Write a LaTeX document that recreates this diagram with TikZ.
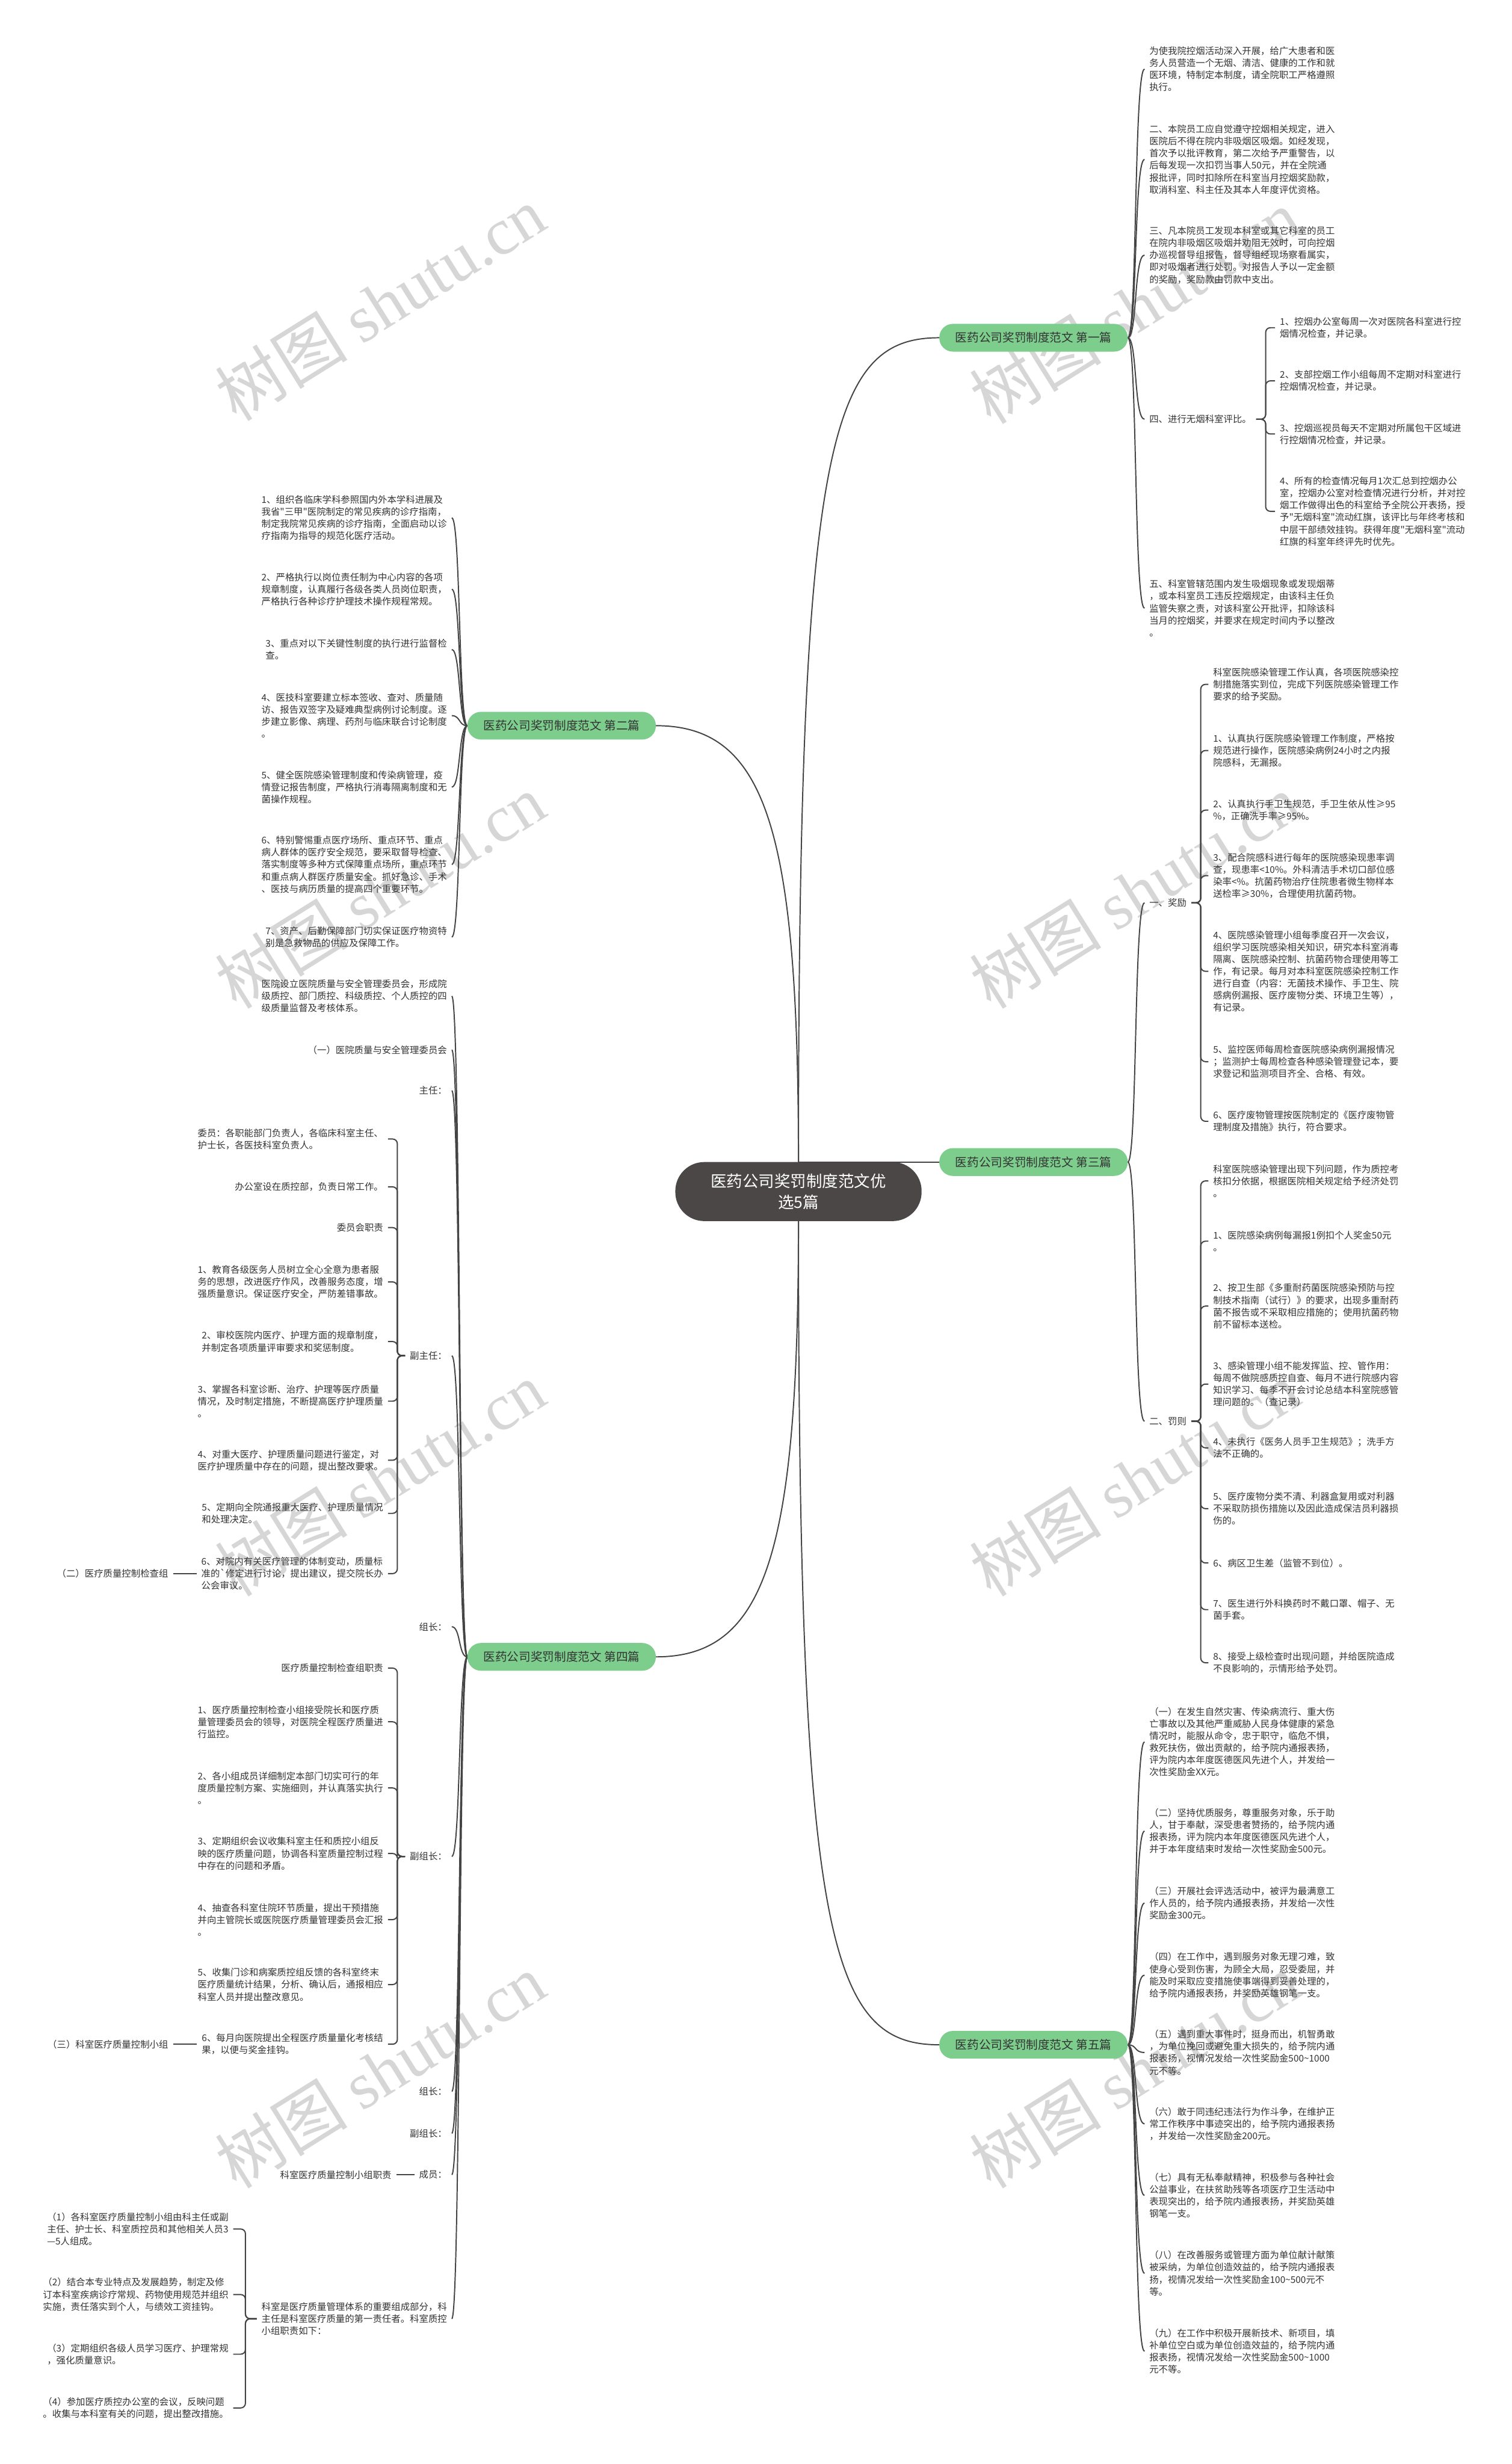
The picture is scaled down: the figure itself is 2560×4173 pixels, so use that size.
\documentclass[tikz,border=0pt]{standalone}
\usepackage{fontspec}
\setmainfont{Noto Sans CJK SC}[Ligatures=TeXOff]
\newfontfamily\wmlatin{Liberation Serif}
\usetikzlibrary{calc}
\pgfdeclarelayer{bg}
\pgfdeclarelayer{wmlayer}
\pgfsetlayers{wmlayer,bg,main}
\definecolor{lineclr}{HTML}{444444}
\definecolor{txtclr}{HTML}{333333}
\definecolor{brgreen}{HTML}{7DCD8D}
\definecolor{rootclr}{HTML}{4B4747}
\definecolor{wmclr}{HTML}{D6D6D6}
\newcommand\fsz{\fontsize{15.7}{20.5}\selectfont}
\newcommand\rcurve[2]{\draw[conn] (#1.east) .. controls ($(#1.east)+(16,0)$) and ($(#2.west)+(-18,0)$) .. (#2.west);}
\newcommand\lcurve[2]{\draw[conn] (#1.west) .. controls ($(#1.west)+(-15,0)$) and ($(#2.east)+(15,0)$) .. (#2.east);}
\begin{document}
\begin{tikzpicture}[x=1pt,y=-1pt,
  conn/.style={draw=lineclr,line width=2pt},
  bconn/.style={conn,rounded corners=8pt},
  txt/.style={font=\fsz,text=txtclr,align=left,inner xsep=8pt,inner ysep=2pt},
  rt/.style={txt,anchor=west},
  lt/.style={txt,anchor=east},
  branch/.style={fill=brgreen,rounded corners=23pt,minimum width=319pt,minimum height=47pt,font=\fontsize{20}{24}\selectfont,text=txtclr,inner sep=0pt},
  root/.style={fill=rootclr,rounded corners=49pt,minimum width=417pt,minimum height=100pt,font=\fontsize{27}{36}\selectfont,text=white,align=center,inner sep=0pt},
  wm/.style={text=wmclr,rotate=32,font=\fontsize{112}{120}\selectfont}
]
\useasboundingbox (0,0) rectangle (2560,4173);
\begin{pgfonlayer}{wmlayer}
\fill[white] (0,0) rectangle (2560,4173);
\foreach \wx/\wy [count=\i] in {644/514,1921/519,644/1509,1921/1509,644/2505,1921/2505,644/3507,1921/3507}
  \node[wm] (wm\i) at (\wx,\wy) {树图 {\wmlatin shutu.cn}};
\end{pgfonlayer}

% root and branches
\node[root] (ctr) at (1352,2018) {医药公司奖罚制度范文优\\选5篇};
\node[branch] (b1) at (1750,572) {医药公司奖罚制度范文 第一篇};
\node[branch] (b3) at (1750,1968) {医药公司奖罚制度范文 第三篇};
\node[branch] (b5) at (1750,3463) {医药公司奖罚制度范文 第五篇};
\node[branch] (b2) at (951,1229) {医药公司奖罚制度范文 第二篇};
\node[branch] (b4) at (951,2806) {医药公司奖罚制度范文 第四篇};

% ---------- branch 1
\node[rt] (c11) at (1938,117) {为使我院控烟活动深入开展，给广大患者和医\\务人员营造一个无烟、清洁、健康的工作和就\\医环境，特制定本制度，请全院职工严格遵照\\执行。};
\node[rt] (c12) at (1938,270) {二、本院员工应自觉遵守控烟相关规定，进入\\医院后不得在院内非吸烟区吸烟。如经发现，\\首次予以批评教育，第二次给予严重警告，以\\后每发现一次扣罚当事人50元，并在全院通\\报批评，同时扣除所在科室当月控烟奖励款，\\取消科室、科主任及其本人年度评优资格。};
\node[rt] (c13) at (1938,432) {三、凡本院员工发现本科室或其它科室的员工\\在院内非吸烟区吸烟并劝阻无效时，可向控烟\\办巡视督导组报告，督导组经现场察看属实，\\即对吸烟者进行处罚。对报告人予以一定金额\\的奖励，奖励款由罚款中支出。};
\node[rt] (c14) at (1938,710) {四、进行无烟科室评比。};
\node[rt] (c141) at (2159,555) {1、控烟办公室每周一次对医院各科室进行控\\烟情况检查，并记录。};
\node[rt] (c142) at (2159,645) {2、支部控烟工作小组每周不定期对科室进行\\控烟情况检查，并记录。};
\node[rt] (c143) at (2159,735) {3、控烟巡视员每天不定期对所属包干区域进\\行控烟情况检查，并记录。};
\node[rt] (c144) at (2159,866) {4、所有的检查情况每月1次汇总到控烟办公\\室，控烟办公室对检查情况进行分析，并对控\\烟工作做得出色的科室给予全院公开表扬，授\\予"无烟科室"流动红旗，该评比与年终考核和\\中层干部绩效挂钩。获得年度"无烟科室"流动\\红旗的科室年终评先时优先。};
\node[rt] (c15) at (1938,1030) {五、科室管辖范围内发生吸烟现象或发现烟蒂\\，或本科室员工违反控烟规定，由该科主任负\\监管失察之责，对该科室公开批评，扣除该科\\当月的控烟奖，并要求在规定时间内予以整改\\。};

% ---------- branch 3
\node[rt] (c31) at (1938,1529) {一、奖励};
\node[rt] (c311) at (2046,1159) {科室医院感染管理工作认真，各项医院感染控\\制措施落实到位，完成下列医院感染管理工作\\要求的给予奖励。};
\node[rt] (c312) at (2046,1271) {1、认真执行医院感染管理工作制度，严格按\\规范进行操作，医院感染病例24小时之内报\\院感科，无漏报。};
\node[rt] (c313) at (2046,1372) {2、认真执行手卫生规范，手卫生依从性≥95\\\%，正确洗手率≥95\%。};
\node[rt] (c314) at (2046,1483) {3、配合院感科进行每年的医院感染现患率调\\查，现患率<10\%。外科清洁手术切口部位感\\染率<\%。抗菌药物治疗住院患者微生物样本\\送检率≥30\%，合理使用抗菌药物。};
\node[rt] (c315) at (2046,1645) {4、医院感染管理小组每季度召开一次会议，\\组织学习医院感染相关知识，研究本科室消毒\\隔离、医院感染控制、抗菌药物合理使用等工\\作，有记录。每月对本科室医院感染控制工作\\进行自查（内容：无菌技术操作、手卫生、院\\感病例漏报、医疗废物分类、环境卫生等），\\有记录。};
\node[rt] (c316) at (2046,1798) {5、监控医师每周检查医院感染病例漏报情况\\；监测护士每周检查各种感染管理登记本，要\\求登记和监测项目齐全、合格、有效。};
\node[rt] (c317) at (2046,1899) {6、医疗废物管理按医院制定的《医疗废物管\\理制度及措施》执行，符合要求。};
\node[rt] (c32) at (1938,2407) {二、罚则};
\node[rt] (c321) at (2046,2000) {科室医院感染管理出现下列问题，作为质控考\\核扣分依据，根据医院相关规定给予经济处罚\\。};
\node[rt] (c322) at (2046,2102) {1、医院感染病例每漏报1例扣个人奖金50元\\。};
\node[rt] (c323) at (2046,2212) {2、按卫生部《多重耐药菌医院感染预防与控\\制技术指南（试行）》的要求，出现多重耐药\\菌不报告或不采取相应措施的；使用抗菌药物\\前不留标本送检。};
\node[rt] (c324) at (2046,2344) {3、感染管理小组不能发挥监、控、管作用：\\每周不做院感质控自查、每月不进行院感内容\\知识学习、每季不开会讨论总结本科室院感管\\理问题的。（查记录）};
\node[rt] (c325) at (2046,2452) {4、未执行《医务人员手卫生规范》；洗手方\\法不正确的。};
\node[rt] (c326) at (2046,2555) {5、医疗废物分类不清、利器盒复用或对利器\\不采取防损伤措施以及因此造成保洁员利器损\\伤的。};
\node[rt] (c327) at (2046,2647) {6、病区卫生差（监管不到位）。};
\node[rt] (c328) at (2046,2726) {7、医生进行外科换药时不戴口罩、帽子、无\\菌手套。};
\node[rt] (c329) at (2046,2816) {8、接受上级检查时出现问题，并给医院造成\\不良影响的，示情形给予处罚。};

% ---------- branch 5
\node[rt] (c51) at (1938,2950) {（一）在发生自然灾害、传染病流行、重大伤\\亡事故以及其他严重威胁人民身体健康的紧急\\情况时，能服从命令，忠于职守，临危不惧，\\救死扶伤，做出贡献的，给予院内通报表扬，\\评为院内本年度医德医风先进个人，并发给一\\次性奖励金XX元。};
\node[rt] (c52) at (1938,3101) {（二）坚持优质服务，尊重服务对象，乐于助\\人，甘于奉献，深受患者赞扬的，给予院内通\\报表扬，评为院内本年度医德医风先进个人，\\并于本年度结束时发给一次性奖励金500元。};
\node[rt] (c53) at (1938,3223) {（三）开展社会评选活动中，被评为最满意工\\作人员的，给予院内通报表扬，并发给一次性\\奖励金300元。};
\node[rt] (c54) at (1938,3345) {（四）在工作中，遇到服务对象无理刁难，致\\使身心受到伤害，为顾全大局，忍受委屈，并\\能及时采取应变措施使事端得到妥善处理的，\\给予院内通报表扬，并奖励英雄钢笔一支。};
\node[rt] (c55) at (1938,3476) {（五）遇到重大事件时，挺身而出，机智勇敢\\，为单位挽回或避免重大损失的，给予院内通\\报表扬，视情况发给一次性奖励金500\textasciitilde1000\\元不等。};
\node[rt] (c56) at (1938,3597) {（六）敢于同违纪违法行为作斗争，在维护正\\常工作秩序中事迹突出的，给予院内通报表扬\\，并发给一次性奖励金200元。};
\node[rt] (c57) at (1938,3718) {（七）具有无私奉献精神，积极参与各种社会\\公益事业，在扶贫助残等各项医疗卫生活动中\\表现突出的，给予院内通报表扬，并奖励英雄\\钢笔一支。};
\node[rt] (c58) at (1938,3850) {（八）在改善服务或管理方面为单位献计献策\\被采纳，为单位创造效益的，给予院内通报表\\扬，视情况发给一次性奖励金100\textasciitilde500元不\\等。};
\node[rt] (c59) at (1938,3982) {（九）在工作中积极开展新技术、新项目，填\\补单位空白或为单位创造效益的，给予院内通\\报表扬，视情况发给一次性奖励金500\textasciitilde1000\\元不等。};

% ---------- branch 2
\node[lt] (c21) at (765,877) {1、组织各临床学科参照国内外本学科进展及\\我省"三甲"医院制定的常见疾病的诊疗指南，\\制定我院常见疾病的诊疗指南，全面启动以诊\\疗指南为指导的规范化医疗活动。};
\node[lt] (c22) at (765,998) {2、严格执行以岗位责任制为中心内容的各项\\规章制度，认真履行各级各类人员岗位职责，\\严格执行各种诊疗护理技术操作规程常规。};
\node[lt] (c23) at (765,1100) {3、重点对以下关键性制度的执行进行监督检\\查。};
\node[lt] (c24) at (765,1212) {4、医技科室要建立标本签收、查对、质量随\\访、报告双签字及疑难典型病例讨论制度。逐\\步建立影像、病理、药剂与临床联合讨论制度\\。};
\node[lt] (c25) at (765,1333) {5、健全医院感染管理制度和传染病管理，疫\\情登记报告制度，严格执行消毒隔离制度和无\\菌操作规程。};
\node[lt] (c26) at (765,1464) {6、特别警惕重点医疗场所、重点环节、重点\\病人群体的医疗安全规范，要采取督导检查、\\落实制度等多种方式保障重点场所，重点环节\\和重点病人群医疗质量安全。抓好急诊、手术\\、医技与病历质量的提高四个重要环节。};
\node[lt] (c27) at (765,1587) {7、资产、后勤保障部门切实保证医疗物资特\\别是急救物品的供应及保障工作。};

% ---------- branch 4
\node[lt] (d1) at (765,1687) {医院设立医院质量与安全管理委员会，形成院\\级质控、部门质控、科级质控、个人质控的四\\级质量监督及考核体系。};
\node[lt] (d2) at (765,1778) {（一）医院质量与安全管理委员会};
\node[lt] (d3) at (765,1847) {主任：};
\node[lt] (d4) at (765,2296) {副主任：};
\node[lt] (d41) at (657,1929) {委员：各职能部门负责人，各临床科室主任、\\护士长，各医技科室负责人。};
\node[lt] (d42) at (657,2010) {办公室设在质控部，负责日常工作。};
\node[lt] (d43) at (657,2079) {委员会职责};
\node[lt] (d44) at (657,2171) {1、教育各级医务人员树立全心全意为患者服\\务的思想，改进医疗作风，改善服务态度，增\\强质量意识。保证医疗安全，严防差错事故。};
\node[lt] (d45) at (657,2272) {2、审校医院内医疗、护理方面的规章制度，\\并制定各项质量评审要求和奖惩制度。};
\node[lt] (d46) at (657,2373) {3、掌握各科室诊断、治疗、护理等医疗质量\\情况，及时制定措施，不断提高医疗护理质量\\。};
\node[lt] (d47) at (657,2473) {4、对重大医疗、护理质量问题进行鉴定，对\\医疗护理质量中存在的问题，提出整改要求。};
\node[lt] (d48) at (657,2563) {5、定期向全院通报重大医疗、护理质量情况\\和处理决定。};
\node[lt] (d49) at (657,2665) {6、对院内有关医疗管理的体制变动，质量标\\准的`修定进行讨论，提出建议，提交院长办\\公会审议。};
\node[lt] (d49a) at (293,2665) {（二）医疗质量控制检查组};
\node[lt] (d5) at (765,2755) {组长：};
\node[lt] (d6) at (765,3144) {副组长：};
\node[lt] (d61) at (657,2825) {医疗质量控制检查组职责};
\node[lt] (d62) at (657,2916) {1、医疗质量控制检查小组接受院长和医疗质\\量管理委员会的领导，对医院全程医疗质量进\\行监控。};
\node[lt] (d63) at (657,3028) {2、各小组成员详细制定本部门切实可行的年\\度质量控制方案、实施细则，并认真落实执行\\。};
\node[lt] (d64) at (657,3139) {3、定期组织会议收集科室主任和质控小组反\\映的医疗质量问题，协调各科室质量控制过程\\中存在的问题和矛盾。};
\node[lt] (d65) at (657,3251) {4、抽查各科室住院环节质量，提出干预措施\\并向主管院长或医院医疗质量管理委员会汇报\\。};
\node[lt] (d66) at (657,3361) {5、收集门诊和病案质控组反馈的各科室终末\\医疗质量统计结果，分析、确认后，通报相应\\科室人员并提出整改意见。};
\node[lt] (d67) at (657,3462) {6、每月向医院提出全程医疗质量量化考核结\\果，以便与奖金挂钩。};
\node[lt] (d67a) at (293,3462) {（三）科室医疗质量控制小组};
\node[lt] (d7) at (765,3542) {组长：};
\node[lt] (d8) at (765,3613) {副组长：};
\node[lt] (d9) at (765,3683) {成员：};
\node[lt] (d91) at (671,3683) {科室医疗质量控制小组职责};
\node[lt] (d10) at (765,3927) {科室是医疗质量管理体系的重要组成部分，科\\主任是科室医疗质量的第一责任者。科室质控\\小组职责如下：};
\node[lt] (d101) at (395,3775) {（1）各科室医疗质量控制小组由科主任或副\\主任、护士长、科室质控员和其他相关人员3\\—5人组成。};
\node[lt] (d102) at (395,3886) {（2）结合本专业特点及发展趋势，制定及修\\订本科室疾病诊疗常规、药物使用规范并组织\\实施，责任落实到个人，与绩效工资挂钩。};
\node[lt] (d103) at (395,3987) {（3）定期组织各级人员学习医疗、护理常规\\，强化质量意识。};
\node[lt] (d104) at (395,4078) {（4）参加医疗质控办公室的会议，反映问题\\。收集与本科室有关的问题，提出整改措施。};

% ---------- connectors
\begin{pgfonlayer}{bg}
\draw[conn] (ctr.north) .. controls (1352,750) and (1404,572) .. (b1.west);
\draw[conn] (ctr.center |- b3.west) -- (b3.west);
\draw[conn] (ctr.south) .. controls (1352,3285) and (1404,3463) .. (b5.west);
\draw[conn] (ctr.north) .. controls (1352,1407) and (1298,1229) .. (b2.east);
\draw[conn] (ctr.south) .. controls (1352,2628) and (1298,2806) .. (b4.east);

\foreach \c in {c11,c12,c13,c14,c15} {\rcurve{b1}{\c}}
\foreach \c in {c141,c142,c143,c144} \draw[bconn] (c14.east) -- ++(16,0) |- (\c.west);
\foreach \c in {c31,c32} {\rcurve{b3}{\c}}
\foreach \c in {c311,c312,c313,c314,c315,c316,c317} \draw[bconn] (c31.east) -- ++(16,0) |- (\c.west);
\foreach \c in {c321,c322,c323,c324,c325,c326,c327,c328,c329} \draw[bconn] (c32.east) -- ++(16,0) |- (\c.west);
\foreach \c in {c51,c52,c53,c54,c55,c56,c57,c58,c59} {\rcurve{b5}{\c}}

\foreach \c in {c21,c22,c23,c24,c25,c26,c27} {\lcurve{b2}{\c}}
\foreach \c in {d1,d2,d3,d4,d5,d6,d7,d8,d9,d10} {\lcurve{b4}{\c}}
\foreach \c in {d41,d42,d43,d44,d45,d46,d47,d48,d49} \draw[bconn] (d4.west) -- ++(-13,0) |- (\c.east);
\foreach \c in {d61,d62,d63,d64,d65,d66,d67} \draw[bconn] (d6.west) -- ++(-13,0) |- (\c.east);
\foreach \c in {d101,d102,d103,d104} \draw[bconn] (d10.west) -- ++(-19,0) |- (\c.east);
\draw[conn] (d49.west) -- (d49a.east);
\draw[conn] (d67.west) -- (d67a.east);
\draw[conn] (d9.west) -- (d91.east);
\end{pgfonlayer}
\end{tikzpicture}
\end{document}
